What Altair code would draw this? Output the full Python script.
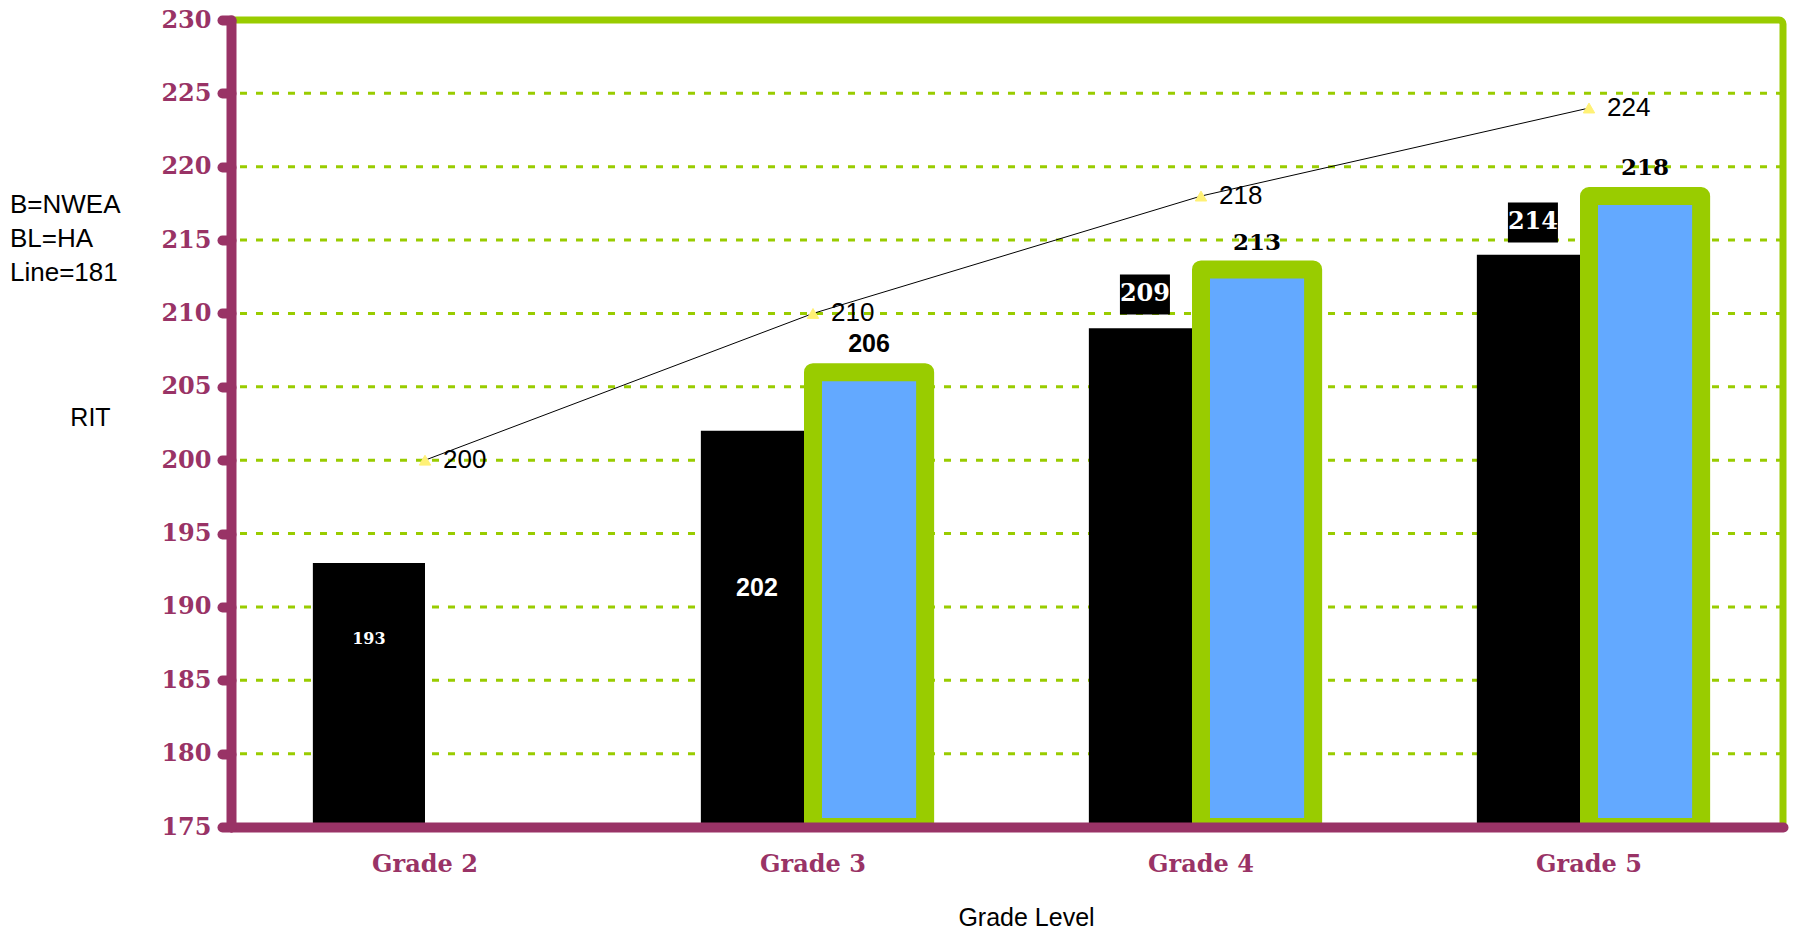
import altair as alt
import pandas as pd

# ---- data ----
grades = ["Grade 2", "Grade 3", "Grade 4", "Grade 5"]
black_values = [193, 202, 209, 214]
blue_grades = ["Grade 3", "Grade 4", "Grade 5"]
blue_values = [206, 213, 218]
line_values = [200, 210, 218, 224]

# label anchor values (where the value labels sit on the RIT scale)
black_label_pos = [187.8, 191.3, 211.3, 216.2]
black_label_size = [16, 25, 24, 24]
black_label_boxed = [False, False, True, True]
black_label_slab = [True, False, True, True]
blue_label_pos = [207.9, 214.8, 219.9]
blue_label_slab = [False, True, True]

y_ticks = list(range(175, 231, 5))
grid_values = list(range(180, 230, 5))
note_lines = ["B=NWEA", "BL=HA", "Line=181"]

MAROON = "#993366"
GREEN = "#99CC00"
BLUE = "#63A9FF"
YELLOW = "#FFF176"

# ---- tables ----
df_black = pd.DataFrame({"grade": grades, "series": "Black", "value": black_values})
df_blue = pd.DataFrame({"grade": blue_grades, "series": "Blue", "value": blue_values})
df_line = pd.DataFrame({"grade": grades, "value": line_values,
                        "label": [str(v) for v in line_values]})
df_black_lab = pd.DataFrame({"grade": grades, "series": "Black", "value": black_label_pos,
                             "label": [str(v) for v in black_values],
                             "fs": black_label_size, "boxed": black_label_boxed,
                             "slab": black_label_slab})
df_blue_lab = pd.DataFrame({"grade": blue_grades, "series": "Blue", "value": blue_label_pos,
                            "label": [str(v) for v in blue_values],
                            "slab": blue_label_slab})
df_grid = pd.DataFrame({"value": grid_values})
df_note = pd.DataFrame({"n": [0]})

# ---- scales & axes ----
x_scale = alt.Scale(domain=grades, paddingInner=0, paddingOuter=0)
y_scale = alt.Scale(domain=[175, 230], nice=False, zero=False)
off_scale = alt.Scale(domain=["Black", "Blue"], paddingInner=0, paddingOuter=0.73)

x_axis = alt.Axis(
    title="Grade Level", titleX=795, titleY=90, titleBaseline="middle",
    titleFont="Liberation Sans", titleFontSize=25, titleFontWeight="normal", titleColor="black",
    labelFont="DejaVu Serif", labelFontWeight="bold", labelFontSize=24, labelColor=MAROON,
    labelAngle=0, labelPadding=37, labelBaseline="middle",
    ticks=False, tickSize=0,
    domainColor=MAROON, domainWidth=10, domainCap="round", zindex=1,
)
y_axis = alt.Axis(
    values=y_ticks, title="RIT", titleAngle=0, titleX=-141, titleY=397,
    titleAlign="center", titleBaseline="middle",
    titleFont="Liberation Sans", titleFontSize=25, titleFontWeight="normal", titleColor="black",
    labelFont="DejaVu Serif", labelFontWeight="bold", labelFontSize=24, labelColor=MAROON,
    labelPadding=11, labelBaseline="middle",
    tickColor=MAROON, tickWidth=10, tickSize=9, tickCap="round",
    domainColor=MAROON, domainWidth=10, domainCap="round", grid=False, zindex=1,
)


def X():
    return alt.X("grade:N", scale=x_scale, axis=x_axis)


def Y():
    return alt.Y("value:Q", scale=y_scale, axis=y_axis)


def XO():
    return alt.XOffset("series:N", scale=off_scale)


grid = alt.Chart(df_grid).mark_rule(
    color=GREEN, strokeWidth=3, strokeDash=[7, 9]
).encode(y=Y())

black_bars = alt.Chart(df_black).mark_bar(color="black").encode(
    x=X(), xOffset=XO(), y=Y(), y2=alt.datum(175)
)

blue_bars = alt.Chart(df_blue).mark_bar(
    fill=BLUE, stroke=GREEN, strokeWidth=18, strokeJoin="round", clip=True
).encode(x=X(), xOffset=XO(), y=Y(), y2=alt.datum(175))

line = alt.Chart(df_line).mark_line(color="black", strokeWidth=1).encode(x=X(), y=Y())
points = alt.Chart(df_line).mark_point(
    shape="triangle-up", filled=True, fill=YELLOW, stroke=YELLOW, strokeWidth=1,
    size=130, opacity=1
).encode(x=X(), y=Y())
line_labels = alt.Chart(df_line).mark_text(
    align="left", baseline="middle", dx=18, font="Liberation Sans", fontSize=26, color="black"
).encode(x=X(), y=Y(), text="label:N")

boxes = alt.Chart(df_black_lab).transform_filter(alt.datum.boxed).mark_point(
    shape="M-1,-0.8H1V0.8H-1Z", filled=True, color="black", size=2500, opacity=1
).encode(x=X(), xOffset=XO(), y=Y())

black_text_slab = alt.Chart(df_black_lab).transform_filter(alt.datum.slab).mark_text(
    color="white", font="DejaVu Serif", fontWeight="bold", baseline="middle"
).encode(x=X(), xOffset=XO(), y=Y(), text="label:N", size=alt.Size("fs:Q", scale=None))

black_text_sans = alt.Chart(df_black_lab).transform_filter("!datum.slab").mark_text(
    color="white", font="Liberation Sans", fontWeight="bold", baseline="middle"
).encode(x=X(), xOffset=XO(), y=Y(), text="label:N", size=alt.Size("fs:Q", scale=None))

blue_text_slab = alt.Chart(df_blue_lab).transform_filter(alt.datum.slab).mark_text(
    color="black", font="DejaVu Serif", fontWeight="bold", baseline="middle", fontSize=23
).encode(x=X(), xOffset=XO(), y=Y(), text="label:N")

blue_text_sans = alt.Chart(df_blue_lab).transform_filter("!datum.slab").mark_text(
    color="black", font="Liberation Sans", fontWeight="bold", baseline="middle", fontSize=25
).encode(x=X(), xOffset=XO(), y=Y(), text="label:N")

notes = alt.Chart(df_note).mark_text(
    align="left", baseline="top", font="Liberation Sans", fontSize=26, lineHeight=34,
    color="black"
).encode(x=alt.value(-221), y=alt.value(172), text=alt.value(note_lines))

chart = alt.layer(
    grid, black_bars, blue_bars, line, points, line_labels,
    boxes, black_text_slab, black_text_sans, blue_text_slab, blue_text_sans, notes
).properties(
    width=1552, height=807,
    padding={"left": 231, "top": 20, "right": 12, "bottom": 103},
    autosize=alt.AutoSizeParams(type="none"),
    background="white",
).configure_view(
    stroke=GREEN, strokeWidth=7, cornerRadius=4
)

chart.save("out.html", embed_options={"renderer": "svg", "actions": False})
